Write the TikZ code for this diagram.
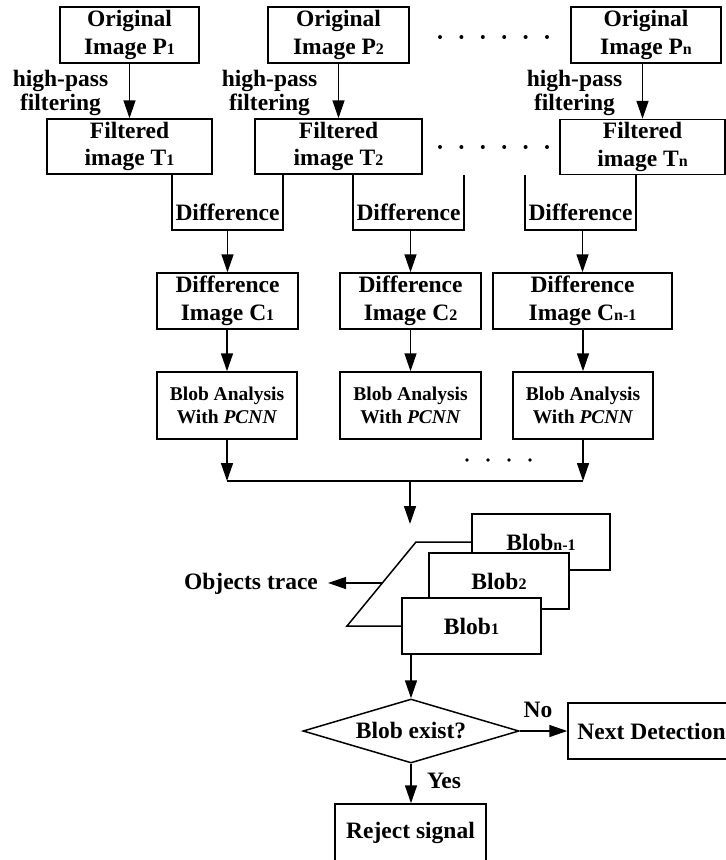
\documentclass[tikz,border=0pt]{standalone}
\usepackage{fontspec}
\setmainfont{Liberation Serif}
\usetikzlibrary{arrows.meta,shapes.geometric,calc}
\newcommand{\bigtxt}{\fontsize{23.5}{27.5}\selectfont\bfseries}
\newcommand{\midtxt}{\fontsize{19.5}{23}\selectfont\bfseries}
\newcommand{\smallidx}[1]{{\fontsize{16}{16}\selectfont #1}}
\begin{document}
\begin{tikzpicture}[x=1pt,y=-1pt,
  box/.style={draw, line width=1.5pt, fill=white, inner sep=0pt, align=center, font=\bigtxt},
  babox/.style={box, font=\midtxt},
  lbl/.style={inner sep=0pt, align=center, font=\bigtxt},
  hplbl/.style={inner sep=0pt, align=center, font=\fontsize{23.5}{24}\selectfont\bfseries},
  wire/.style={line width=1.5pt},
  arr/.style={line width=1.5pt, -{Triangle[length=18pt,width=12pt]}},
  dotmark/.style={fill=black}
]
\useasboundingbox (0,0) rectangle (726,860);

% row 1: original images
\node[box, minimum width=139pt, minimum height=56pt] (P1) at (129.5,35) {Original\\Image P\smallidx{1}};
\node[box, minimum width=141pt, minimum height=56pt] (P2) at (338.5,35) {Original\\Image P\smallidx{2}};
\node[box, minimum width=150pt, minimum height=56pt] (Pn) at (646,35) {Original\\Image P\smallidx{n}};

% row 2: filtered images
\node[box, minimum width=165pt, minimum height=55pt] (T1) at (129.5,146.5) {Filtered\\image T\smallidx{1}};
\node[box, minimum width=167pt, minimum height=55pt] (T2) at (338.5,146.5) {Filtered\\image T\smallidx{2}};
\node[box, minimum width=165pt, minimum height=55pt] (Tn) at (642.5,147) {Filtered\\image T\smallidx{n}};

% ellipsis dots
\foreach \i in {0,...,5} {
  \fill[dotmark] (440+\i*21.4,37) circle (2pt);
  \fill[dotmark] (440+\i*21.4,147) circle (2pt);
}

% high-pass labels
\node[hplbl] (hp1) at (60.5,93) {high-pass\\filtering};
\node[hplbl] (hp2) at (269.5,93) {high-pass\\filtering};
\node[hplbl] (hpn) at (574.5,93) {high-pass\\filtering};

\draw[arr] (P1.south -| T1.north) -- (T1.north);
\draw[arr] (P2.south -| T2.north) -- (T2.north);
\draw[arr] (Pn.south -| Tn.north) -- (Tn.north);

% row 3: difference images
\node[box, minimum width=141pt, minimum height=56pt] (C1) at (227.5,301) {Difference\\Image C\smallidx{1}};
\node[box, minimum width=141pt, minimum height=56pt] (C2) at (410.5,301) {Difference\\Image C\smallidx{2}};
\node[box, minimum width=179pt, minimum height=56pt] (C3) at (582.5,301) {Difference\\Image C\smallidx{n-1}};

% difference brackets
\coordinate (d1l) at (172,230);
\coordinate (d1r) at (283,230);
\coordinate (d2l) at (353,230);
\coordinate (d2r) at (464,230);
\coordinate (d2t) at (464,175);
\coordinate (d3l) at (525,230);
\coordinate (d3t) at (525,175);
\coordinate (d3r) at (636,230);

\draw[wire] (T1.south -| d1l) -- (d1l) -- (d1r) -- (T2.south -| d1r);
\draw[wire] (T2.south -| d2l) -- (d2l) -- (d2r) -- (d2t);
\draw[wire] (d3t) -- (d3l) -- (d3r) -- (Tn.south -| d3r);

\node[lbl] (df1) at (227.5,212.5) {Difference};
\node[lbl] (df2) at (408.5,212.5) {Difference};
\node[lbl] (df3) at (580.5,212.5) {Difference};

\draw[arr] (C1.north |- d1l) -- (C1.north);
\draw[arr] (C2.north |- d2l) -- (C2.north);
\draw[arr] (C3.north |- d3l) -- (C3.north);

% row 4: blob analysis
\node[babox, minimum width=140pt, minimum height=67pt] (BA1) at (227,405.5) {Blob Analysis\\With \textit{PCNN}};
\node[babox, minimum width=141pt, minimum height=67pt] (BA2) at (410.5,405.5) {Blob Analysis\\With \textit{PCNN}};
\node[babox, minimum width=140pt, minimum height=67pt] (BA3) at (583,405.5) {Blob Analysis\\With \textit{PCNN}};

\draw[arr] (C1.south -| BA1.north) -- (BA1.north);
\draw[arr] (C2.south) -- (BA2.north);
\draw[arr] (C3.south -| BA3.north) -- (BA3.north);

% bus
\coordinate (busL) at (227,481);
\coordinate (busR) at (583,481);
\coordinate (busM) at (410,481);
\coordinate (busTip) at (410,524);
\draw[arr] (BA1.south) -- (BA1.south |- busL);
\draw[arr] (BA3.south) -- (BA3.south |- busR);
\draw[wire] (busL) -- (busR);
\draw[arr] (busM) -- (busTip);
\foreach \i in {0,...,3} {
  \fill[dotmark] (467+\i*21,460) circle (1.8pt);
}

% blob stack
\node[box, minimum width=138pt, minimum height=56pt] (Bn) at (541,542) {Blob\smallidx{n-1}};
\coordinate (pTop) at (416,542);
\coordinate (pBot) at (347,626);
\node[box, minimum width=140pt, minimum height=56pt] (B2) at (499,581) {Blob\smallidx{2}};
\node[box, minimum width=139pt, minimum height=56pt] (B1) at (471.5,626) {Blob\smallidx{1}};
\draw[wire] (Bn.west) -- (pTop) -- (pBot) -- (B1.west);
\coordinate (pMid) at ($(pTop)!0.488!(pBot)$);

\node[lbl] (OT) at (251,583.5) {Objects trace};
\draw[arr, shorten >=10pt] (pMid) -- (OT.east |- pMid);

% decision
\node[draw, diamond, line width=1.5pt, inner sep=0pt, aspect=3.375,
      minimum width=216pt, minimum height=64pt, font=\bigtxt] (D) at (411,731) {Blob exist?};
\draw[arr] (B1.south -| D.north) -- (D.north);

\node[box, minimum width=167pt, minimum height=56pt] (ND) at (651.5,731) {Next Detection};
\draw[arr] (D.east) -- (ND.west);
\node[lbl] (no) at (538,710) {No};

\node[box, minimum width=151pt, minimum height=57pt] (R) at (410.5,832.5) {Reject signal};
\draw[arr] (D.south) -- (D.south |- R.north);
\node[lbl] (yes) at (444,781) {Yes};
\end{tikzpicture}
\end{document}
